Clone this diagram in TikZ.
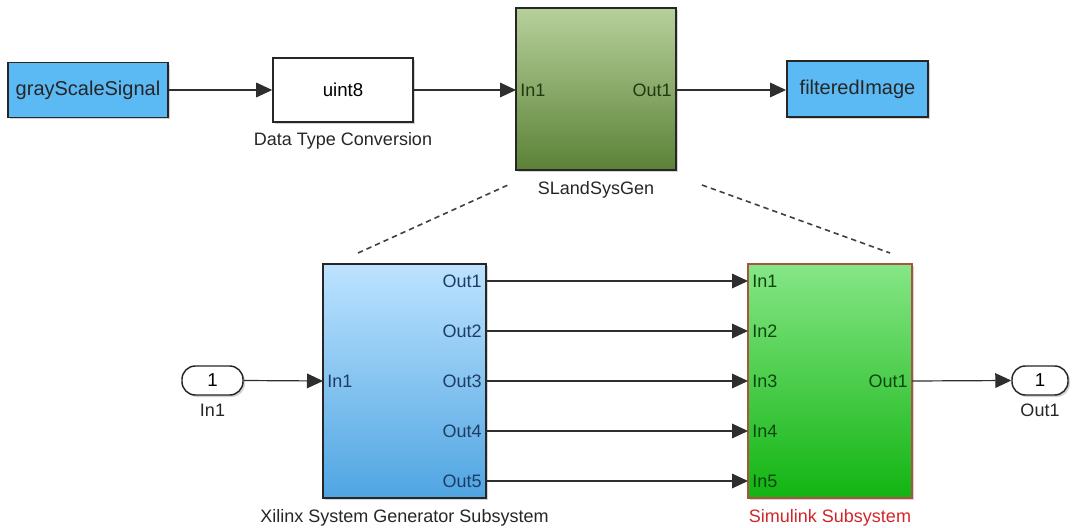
\documentclass[tikz,border=0pt]{standalone}
\usepackage{fontspec}
\setmainfont{Liberation Sans}
\usepackage{tikz}
\usetikzlibrary{arrows.meta,positioning,shadows}
\definecolor{SigBlue}{HTML}{5BB9F4}
\definecolor{GenTop}{HTML}{B7D09C}
\definecolor{GenBot}{HTML}{5B8236}
\definecolor{GenText}{HTML}{1F3A12}
\definecolor{XilTop}{HTML}{BDE3FF}
\definecolor{XilBot}{HTML}{4FA5E2}
\definecolor{XilText}{HTML}{1E3C64}
\definecolor{SimTop}{HTML}{86E686}
\definecolor{SimBot}{HTML}{12B412}
\definecolor{SimText}{HTML}{0C480C}
\definecolor{SimEdge}{HTML}{A8553F}
\definecolor{SimRed}{HTML}{D0262A}
\definecolor{WireGray}{HTML}{2E2E2E}

\begin{document}
\begin{tikzpicture}[
    x=0.75pt,y=-0.75pt,
    node distance=3pt,
    shade/.style={drop shadow={shadow xshift=1.5pt,shadow yshift=-1.5pt,opacity=0.35}},
    block/.style={draw=black!85,line width=1.2pt,shade,align=center,inner sep=0pt},
    sigbox/.style={block,fill=SigBlue,minimum width=120pt,minimum height=41pt,font=\fontsize{15}{18}\selectfont,text=black!85},
    convbox/.style={block,fill=white,minimum width=105pt,minimum height=48pt,font=\fontsize{14}{17}\selectfont},
    genbox/.style={block,top color=GenTop,bottom color=GenBot,minimum width=120pt,minimum height=121.5pt},
    xilbox/.style={block,top color=XilTop,bottom color=XilBot,minimum width=122pt,minimum height=175.5pt},
    simbox/.style={block,draw=SimEdge,top color=SimTop,bottom color=SimBot,minimum width=123pt,minimum height=175.5pt},
    portbox/.style={draw=black!85,line width=1.1pt,fill=white,rounded corners=10pt,shade,minimum height=21.75pt,font=\fontsize{14}{17}\selectfont},
    plabel/.style={inner xsep=3pt,inner ysep=0pt,font=\fontsize{13.5}{16}\selectfont},
    gport/.style={plabel,text=GenText},
    xport/.style={plabel,text=XilText},
    sport/.style={plabel,text=SimText},
    lbl/.style={inner sep=1pt,font=\fontsize{13.5}{16}\selectfont,text=black!85},
    arr/.style={-{Triangle[length=12pt,width=11pt]},line width=0.9pt,draw=WireGray},
    zoomline/.style={dashed,dash pattern=on 4pt off 3pt,line width=1.2pt,draw=black!75}
  ]
    \useasboundingbox (0,0) rectangle (1075,528);

    % top row: model around the generated block
    \node[sigbox] (gray) at (88,90) {grayScaleSignal};
    \node[convbox] (uint) at (343,90) {uint8};
    \node[lbl,below=6pt of uint] (uintlbl) {Data Type Conversion};
    \node[genbox] (gen) at (596,89) {};
    \node[lbl,below=7pt of gen] (genlbl) {SLandSysGen};
    \node[gport,anchor=west] (gin) at (516,90) {In1};
    \node[gport,anchor=east] (gout) at (676,90) {Out1};
    \node[sigbox,minimum width=106pt,minimum height=42pt] (filt) at (857.5,89) {filteredImage};
    \draw[arr] (gray.east|-uint) -- (uint.west);
    \draw[arr] (uint.east) -- (gin.west);
    \draw[arr] (gout.east) -- (filt.west|-gout);

    % dashed zoom lines
    \coordinate (zl1) at (358,253);
    \coordinate (zl2) at (508,185);
    \coordinate (zr1) at (702,185);
    \coordinate (zr2) at (890,253);
    \draw[zoomline] (zl1) -- (zl2);
    \draw[zoomline] (zr1) -- (zr2);

    % bottom row: inside SLandSysGen
    \node[portbox,minimum width=45.75pt] (inp) at (212.5,380.5) {1};
    \node[lbl,below=5pt of inp] (inplbl) {In1};
    \node[xilbox] (xil) at (404.5,381) {};
    \node[lbl,below=7pt of xil] (xillbl) {Xilinx System Generator Subsystem};
    \node[xport,anchor=west] (xin) at (323,381) {In1};
    \node[simbox] (sim) at (830,381) {};
    \node[lbl,below=7pt of sim,text=SimRed] (simlbl) {Simulink Subsystem};
    \node[sport,anchor=east] (sout) at (912,381) {Out1};
    \node[portbox,minimum width=42pt] (outp) at (1040,380.5) {1};
    \node[lbl,below=5pt of outp] (outplbl) {Out1};
    \draw[arr] (inp.east) -- (xin.west);
    \draw[arr] (sout.east) -- (outp.west);

    \foreach \i/\y in {1/281,2/331,3/381,4/431,5/481}{
      \node[xport,anchor=east] (xo\i) at (486,\y) {Out\i};
      \node[sport,anchor=west] (si\i) at (748,\y) {In\i};
      \draw[arr] (xo\i.east) -- (si\i.west);
    }
  \end{tikzpicture}
\end{document}
